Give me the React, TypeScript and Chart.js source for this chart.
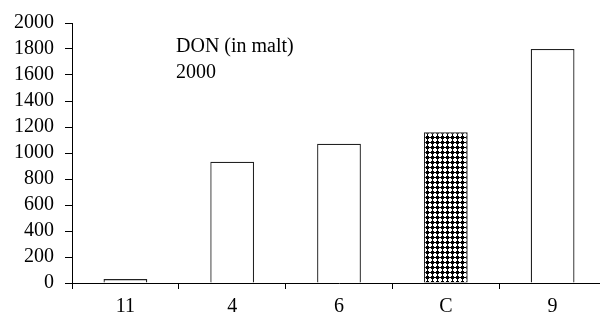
import React, { useEffect, useRef } from "react";
import { Chart, registerables } from "chart.js";
Chart.register(...registerables);

const categories = ["11", "4", "6", "C", "9"];
const values = [30, 933, 1071, 1160, 1800];
const yMin = 0;
const yMax = 2000;
const yStep = 200;
const noteLines = ["DON (in malt)", "2000"];

function makePattern(): CanvasPattern | string {
  const c = document.createElement("canvas");
  c.width = 5;
  c.height = 5;
  const g = c.getContext("2d");
  if (!g) return "#000";
  g.fillStyle = "#fff";
  g.fillRect(0, 0, 5, 5);
  g.fillStyle = "#000";
  g.fillRect(1, 1, 3, 3);
  g.fillRect(0, 2, 5, 1);
  g.fillRect(2, 0, 1, 5);
  const p = g.createPattern(c, "repeat");
  return p || "#000";
}

const FONT = "'Liberation Serif', 'Times New Roman', serif";

export default function App() {
  const ref = useRef<HTMLCanvasElement>(null);
  useEffect(() => {
    if (!ref.current) return;
    const pat = makePattern();
    const notePlugin = {
      id: "note",
      afterDraw(chart: any) {
        const { ctx, chartArea } = chart;
        ctx.save();
        ctx.fillStyle = "#000";
        ctx.font = `20px ${FONT}`;
        ctx.textBaseline = "alphabetic";
        noteLines.forEach((t, i) => {
          ctx.fillText(t, chartArea.left + 104, chartArea.top + 29 + i * 26);
        });
        ctx.restore();
      },
    };
    const chart = new Chart(ref.current, {
      type: "bar",
      data: {
        labels: categories,
        datasets: [
          {
            data: values,
            backgroundColor: values.map((_, i) => (categories[i] === "C" ? pat : "#fff")) as any,
            borderColor: "#222",
            borderWidth: 1.3,
            categoryPercentage: 1,
            barPercentage: 0.41,
          },
        ],
      },
      plugins: [notePlugin],
      options: {
        animation: false,
        responsive: false,
        maintainAspectRatio: false,
        layout: { padding: { left: 0, right: 14, top: 21, bottom: 0 } },
        plugins: { legend: { display: false }, tooltip: { enabled: false } },
        scales: {
          x: {
            offset: true,
            grid: { display: true, drawOnChartArea: false, offset: true, tickLength: 6, color: "#000", lineWidth: 1 },
            border: { display: true, color: "#000", width: 1 },
            ticks: { color: "#000", font: { family: FONT, size: 20 }, padding: 6, maxRotation: 0 },
            afterFit: (s: any) => { s.height = 31; },
          },
          y: {
            min: yMin,
            max: yMax,
            ticks: {
              stepSize: yStep,
              autoSkip: false,
              color: "#000",
              font: { family: FONT, size: 20 },
              padding: 11,
              callback: (v: any) => String(v),
            },
            grid: { display: true, drawOnChartArea: false, tickLength: 7, color: "#000", lineWidth: 1 },
            border: { display: true, color: "#000", width: 1 },
            afterFit: (s: any) => { s.width = 72; },
          },
        },
      },
    });
    return () => chart.destroy();
  }, []);
  return (
    <div style={{ position: "fixed", left: 0, top: 0, width: 600, height: 314, overflow: "hidden", background: "#fff" }}>
      <canvas ref={ref} width={620} height={314} style={{ width: 620, height: 314, display: "block" }} />
    </div>
  );
}
